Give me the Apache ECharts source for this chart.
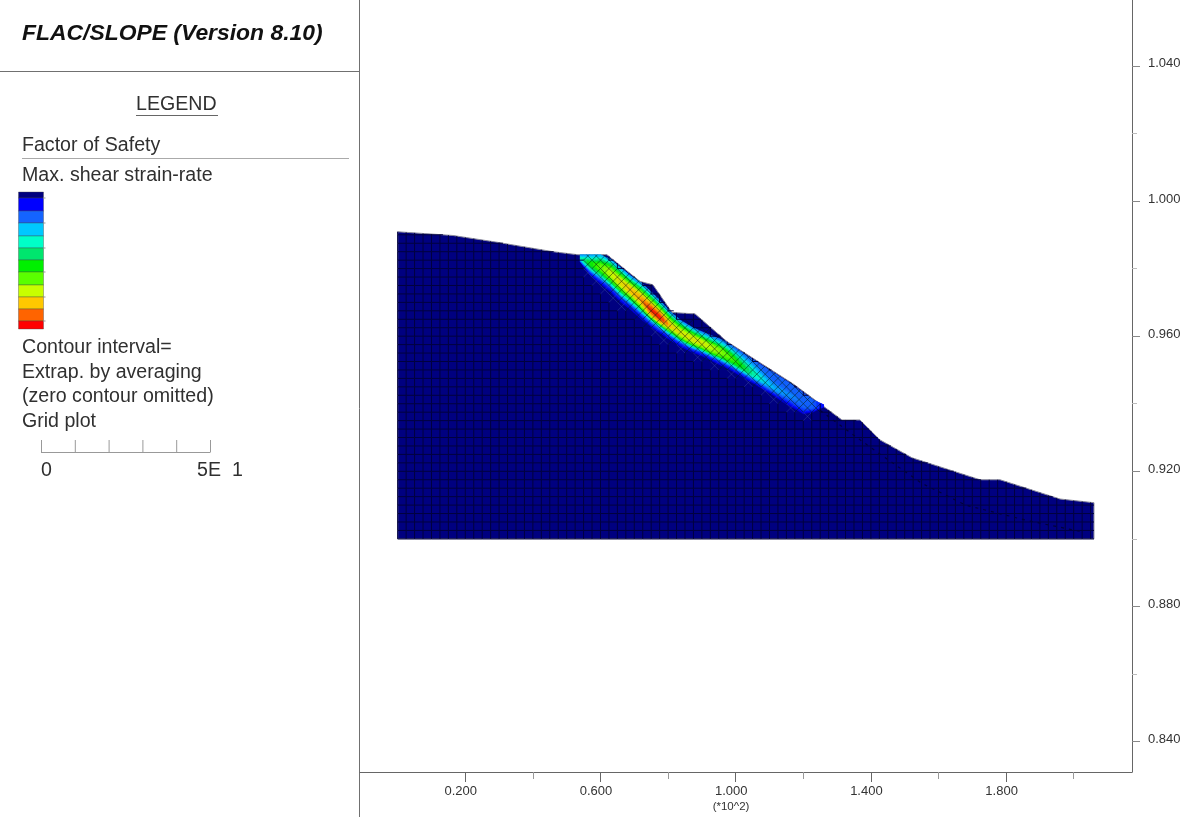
<!DOCTYPE html>
<html><head><meta charset="utf-8">
<style>html,body{margin:0;padding:0;background:#fff}#c{width:1200px;height:817px;filter:blur(0.55px)}</style>
<script src="https://cdn.jsdelivr.net/npm/echarts@6/dist/echarts.min.js"></script>
</head><body><div id="c"></div>
<script>
// ---- chart data ----
const xLabelTicks = [0.2, 0.6, 1.0, 1.4, 1.8];
const xMinorTicks = [0.4, 0.8, 1.2, 1.6, 2.0];
const yLabelTicks = [0.84, 0.88, 0.92, 0.96, 1.0, 1.04];
const yMinorTicks = [0.86, 0.90, 0.94, 0.98, 1.02];
const terrainX = [0, 0.1636, 0.2938, 0.4595, 0.5334, 0.6192, 0.7169, 0.7553, 0.8115, 0.8796, 0.9742, 1.1695, 1.3145, 1.3677, 1.4269, 1.5216, 1.7228, 1.7820, 1.9595, 2.06];
const terrainY = [0.9909, 0.9898, 0.9878, 0.9850, 0.9841, 0.9841, 0.9762, 0.9752, 0.9670, 0.9666, 0.9584, 0.9459, 0.9352, 0.9352, 0.9293, 0.9240, 0.9175, 0.9175, 0.9118, 0.9107];
const slopeBase = 0.9;
const meshColumns = 83, meshRows = 37;
const meshStepX = 0.025, meshStepY = 0.0025;
// strain-rate band: stations along the slope, contour level sampled bottom to top
const bandX = [0.54,0.57,0.60,0.63,0.66,0.69,0.72,0.75,0.78,0.81,0.84,0.87,0.90,0.93,0.96,0.99,1.02,1.05,1.08,1.11,1.14,1.17,1.20,1.23,1.26];
const bandBottom = [0.9820,0.9781,0.9755,0.9731,0.9701,0.9678,0.9651,0.9627,0.9607,0.9586,0.9568,0.9553,0.9542,0.9527,0.9512,0.9497,0.9479,0.9462,0.9444,0.9426,0.9405,0.9388,0.9370,0.9376,0.9390];
const bandTop = [0.9841,0.9841,0.9841,0.9827,0.9802,0.9778,0.9758,0.9731,0.9701,0.9669,0.9645,0.9627,0.9613,0.9601,0.9589,0.9571,0.9551,0.9531,0.9512,0.9493,0.9474,0.9454,0.9432,0.9411,0.9397];
const bandLevels = [
 [1,2.5,3.5,4,4,3,2.5],[0.5,2,4.5,6,6,4,2.5],[0.5,2,5,7,7,5,2.5],[0.5,2,6,8,8,6,2.5],[0.5,2,6,8.5,8.5,6,2.5],
 [0.5,2,6,9,9,6,2],[0.5,2,7,9.5,9,6,2],[0.5,2.5,9,11,9,6,2],[0.5,2.5,9,11,9,6,2],[0.5,2,7,9,8,5.5,2],
 [0.5,2,7,8.5,8,5.5,2],[0.5,2,7,8.5,8,5.5,2],[0.5,2,7,8.5,8,5,2],[0.5,2,7,8,7.5,4.5,2],[0.5,2,6.5,7.5,7,4,2],
 [0.5,2,6,7,6,3.5,2],[0.5,2,5.5,6,4.5,3,2],[0.5,2,4.5,4.5,3.5,2.5,2],[0.5,2,3.5,3.5,2.5,2,2],[0.5,2,3,2.5,2,2,2],
 [0.5,1.5,2.5,2.5,2,2,2],[0.5,1.5,2,2.5,2,2,2],[0.5,1.5,2,2,2,2,2],[0.5,1.5,2,2,2,2,2],[0,1,1,1,1,1,1]];
const trailX = [1.25, 1.40, 1.55, 1.68, 1.86, 2.03];
const trailY = [0.9380, 0.9270, 0.9165, 0.9100, 0.9055, 0.9020];
const legendColors = ['#00007f','#0000ff','#1464ff','#00c8ff','#00ffc8','#00e66e','#00f000','#5aff00','#c8ff00','#ffc800','#ff6400','#ff0000'];

// ---- helpers ----
function lerpTable(xs, ys, x){
  if (x <= xs[0]) return ys[0];
  for (let i = 1; i < xs.length; i++) if (x <= xs[i]) {
    const t = (x - xs[i-1]) / (xs[i] - xs[i-1]);
    return ys[i-1] + t * (ys[i] - ys[i-1]);
  }
  return ys[ys.length-1];
}
const terrainAt = x => lerpTable(terrainX, terrainY, x);
function hexRgb(h){return [1,3,5].map(i=>parseInt(h.substr(i,2),16));}
const legendRgb = legendColors.map(hexRgb);
function levelColor(v){
  const i = Math.max(0, Math.min(legendRgb.length-2, Math.floor(v))), t = Math.max(0, Math.min(1, v-i));
  const a = legendRgb[i], b = legendRgb[i+1];
  return 'rgb('+a.map((c,k)=>Math.round(c+(b[k]-c)*t)).join(',')+')';
}
function levelAt(i, j, u, v){
  const L = bandLevels;
  const a = L[i][j], b = L[i][Math.min(j+1,6)], c = L[Math.min(i+1,24)][j], d = L[Math.min(i+1,24)][Math.min(j+1,6)];
  return (a*(1-v)+b*v)*(1-u) + (c*(1-v)+d*v)*u;
}
// keep a mesh segment inside the slope: p is the lower end, q the upper end
function clipToTerrain(p, q){
  const inside = a => a[1] <= terrainAt(a[0]);
  if (!inside(p)) return null;
  if (inside(q)) return [p, q];
  let lo = 0, hi = 1;
  for (let k = 0; k < 10; k++) {
    const m = (lo+hi)/2, a = [p[0]+(q[0]-p[0])*m, p[1]+(q[1]-p[1])*m];
    if (inside(a)) lo = m; else hi = m;
  }
  return [p, [p[0]+(q[0]-p[0])*lo, p[1]+(q[1]-p[1])*lo]];
}

// ---- series items ----
const bandCells = [];
for (let i = 0; i < bandX.length-1; i++) for (let j = 0; j < 6; j++) bandCells.push([i, j]);
const meshCells = [];
for (let c = 0; c < meshColumns; c++) for (let r = 0; r < meshRows; r++) meshCells.push([c, r]);

function renderTerrain(params, api){
  if (params.dataIndex !== 0) return;
  const pts = terrainX.map((x,i)=>api.coord([x, terrainY[i]]));
  pts.push(api.coord([terrainX[terrainX.length-1], slopeBase]));
  pts.push(api.coord([terrainX[0], slopeBase]));
  return {type:'polygon', shape:{points:pts}, style:{fill:'#000080', stroke:'#8d8d9c', lineWidth:1}};
}
function renderBand(params, api){
  const i = api.value(0), j = api.value(1), N = 3, kids = [];
  const at = (u, v) => {
    const x = bandX[i] + (bandX[i+1]-bandX[i])*u;
    const b = bandBottom[i] + (bandBottom[i+1]-bandBottom[i])*u;
    const t = bandTop[i] + (bandTop[i+1]-bandTop[i])*u;
    return api.coord([x, b + (t-b)*(j+v)/6]);
  };
  for (let a = 0; a < N; a++) for (let b = 0; b < N; b++) {
    const col = levelColor(levelAt(i, j, (a+.5)/N, (b+.5)/N));
    kids.push({type:'polygon', shape:{points:[at(a/N,b/N),at((a+1)/N,b/N),at((a+1)/N,(b+1)/N),at(a/N,(b+1)/N)]},
      style:{fill:col, stroke:col, lineWidth:0.6}});
  }
  return {type:'group', children:kids};
}
function renderMesh(params, api){
  const c = api.value(0), r = api.value(1);
  const x0 = terrainX[0] + c*meshStepX, x1 = Math.min(x0+meshStepX, terrainX[terrainX.length-1]);
  const y0 = slopeBase + r*meshStepY, y1 = y0+meshStepY;
  const t0 = terrainAt(x0), t1 = terrainAt(x1), xm = (x0+x1)/2, ym = (y0+y1)/2;
  if (y0 >= Math.max(t0, t1)) return;
  const b = lerpTable(bandX, bandBottom, xm), t = lerpTable(bandX, bandTop, xm);
  const inBand = xm > bandX[0] && xm < bandX[bandX.length-1] && ym > b - meshStepY*0.6 && ym < t + meshStepY*0.5;
  const seg = (p, q, stroke, lw) => {
    const s = clipToTerrain(p, q);
    if (!s) return null;
    const a = api.coord(s[0]), e = api.coord(s[1]);
    return {type:'line', shape:{x1:a[0],y1:a[1],x2:e[0],y2:e[1]}, style:{stroke, lineWidth:lw}};
  };
  if (inBand) {
    const below = ym < b;
    const stroke = below ? 'rgba(70,90,170,0.45)' : 'rgba(0,30,20,0.65)';
    return {type:'group', children:[seg([x0,y0],[x1,y1],stroke,0.8), seg([x1,y0],[x0,y1],stroke,0.8)].filter(Boolean)};
  }
  const stroke = '#00003e', lw = 1, kids = [];
  const v = seg([x0,y0],[x0,y1],stroke,lw);
  if (v) kids.push(v);
  let xe = x1, xs = x0;
  if (y0 > t1) xe = x0 + (t0-y0)/(t0-t1)*(x1-x0);
  if (y0 > t0) xs = x0 + (y0-t0)/(t1-t0)*(x1-x0);
  if (xe > xs) {
    const p = api.coord([xs,y0]), q = api.coord([xe,y0]);
    kids.push({type:'line', shape:{x1:p[0],y1:p[1],x2:q[0],y2:q[1]}, style:{stroke, lineWidth:lw}});
  }
  return {type:'group', children:kids};
}

// ---- left panel (layout only) ----
const FONT = '"Liberation Sans", Arial, sans-serif';
const SZ = 19.6;
const txt = (text, x, y, size, extra) => ({type:'text', silent:true, style:Object.assign({text, x, y, fill:'#303030', font:size+'px '+FONT, textVerticalAlign:'middle'}, extra||{})});
const ln = (x1,y1,x2,y2,stroke,w) => ({type:'line', silent:true, shape:{x1,y1,x2,y2}, style:{stroke:stroke||'#777', lineWidth:w||1}});
const legendEdges = [192,198,211,223,236,248,260,272,285,297,309,321,329];
const g = [
  ln(359.5,0,359.5,817,'#707070'),
  ln(0,71.5,360,71.5,'#707070'),
  txt('FLAC/SLOPE (Version 8.10)',22,34,22.9,{font:'italic bold 22.9px '+FONT, fill:'#111'}),
  txt('LEGEND',136,105,SZ),
  ln(136,115.5,218,115.5,'#666'),
  txt('Factor of Safety',22,146,SZ),
  ln(22,158.5,349,158.5,'#aaa'),
  txt('Max. shear strain-rate',22,176,SZ),
  txt('Contour interval=',22,348,SZ),
  txt('Extrap. by averaging',22,373,SZ),
  txt('(zero contour omitted)',22,397,SZ),
  txt('Grid plot',22,422,SZ),
  ln(41,452.5,210,452.5,'#999'),
  txt('0',41,471,SZ),
  txt('5E',197,471,SZ),
  txt('1',232,471,SZ)
];
for (let i = 0; i <= 5; i++) g.push(ln(41.5+i*33.8,440,41.5+i*33.8,452.5,'#999'));
legendColors.forEach((col,i)=>{
  g.push({type:'rect', silent:true, shape:{x:18.5,y:legendEdges[i],width:25,height:legendEdges[i+1]-legendEdges[i]}, style:{fill:col, stroke:'rgba(70,70,70,0.55)', lineWidth:0.7}});
});
for (let i = 1; i < legendEdges.length; i += 2) g.push(ln(43,legendEdges[i],45.5,legendEdges[i],'#999'));

// ---- chart ----
const chart = echarts.init(document.getElementById('c'), null, {renderer:'canvas'});
const xRange = {min:-0.1115, max:2.1725}, yRange = {min:0.8310, max:1.0595};
const baseAxisLine = {show:true, onZero:false, lineStyle:{color:'#666', width:1}};
chart.setOption({
  animation:false,
  backgroundColor:'#fff',
  grid:{left:360, right:68, top:0, bottom:45, containLabel:false, outerBoundsMode:'none'},
  graphic:g,
  xAxis:[
    {type:'value', ...xRange, position:'bottom', axisLine:baseAxisLine, splitLine:{show:false},
     name:'(*10^2)', nameLocation:'middle', nameGap:29, nameMoveOverlap:false, nameTextStyle:{color:'#333', fontSize:11.5, fontFamily:FONT, padding:[0,30,0,0]},
     axisTick:{show:true, customValues:xLabelTicks, length:10, lineStyle:{color:'#666'}},
     axisLabel:{show:true, customValues:xLabelTicks, margin:13, padding:[0,9,0,0], color:'#333', fontSize:13, fontFamily:FONT, formatter:v=>v.toFixed(3)}},
    {type:'value', ...xRange, position:'bottom', axisLine:{show:false, onZero:false}, splitLine:{show:false},
     axisTick:{show:true, customValues:xMinorTicks, length:7, lineStyle:{color:'#999'}}, axisLabel:{show:false}}
  ],
  yAxis:[
    {type:'value', ...yRange, position:'right', axisLine:baseAxisLine, splitLine:{show:false},
     axisTick:{show:true, customValues:yLabelTicks, length:8, lineStyle:{color:'#888'}},
     axisLabel:{show:true, customValues:yLabelTicks, margin:16, verticalAlign:'bottom', lineHeight:4, color:'#333', fontSize:13, fontFamily:FONT, formatter:v=>v.toFixed(3)}},
    {type:'value', ...yRange, position:'right', axisLine:{show:false, onZero:false}, splitLine:{show:false},
     axisTick:{show:true, customValues:yMinorTicks, length:5, lineStyle:{color:'#bbb'}}, axisLabel:{show:false}}
  ],
  series:[
    {type:'custom', silent:true, clip:false, renderItem:renderTerrain, data:[[0]], z:1},
    {type:'custom', silent:true, renderItem:renderBand, data:bandCells, z:2},
    {type:'line', silent:true, symbol:'none', data:trailX.map((x,i)=>[x,trailY[i]]), lineStyle:{color:'#00003a', width:1.2, type:[3,5]}, z:3},
    {type:'custom', silent:true, renderItem:renderMesh, data:meshCells, z:4}
  ]
});
</script></body></html>
